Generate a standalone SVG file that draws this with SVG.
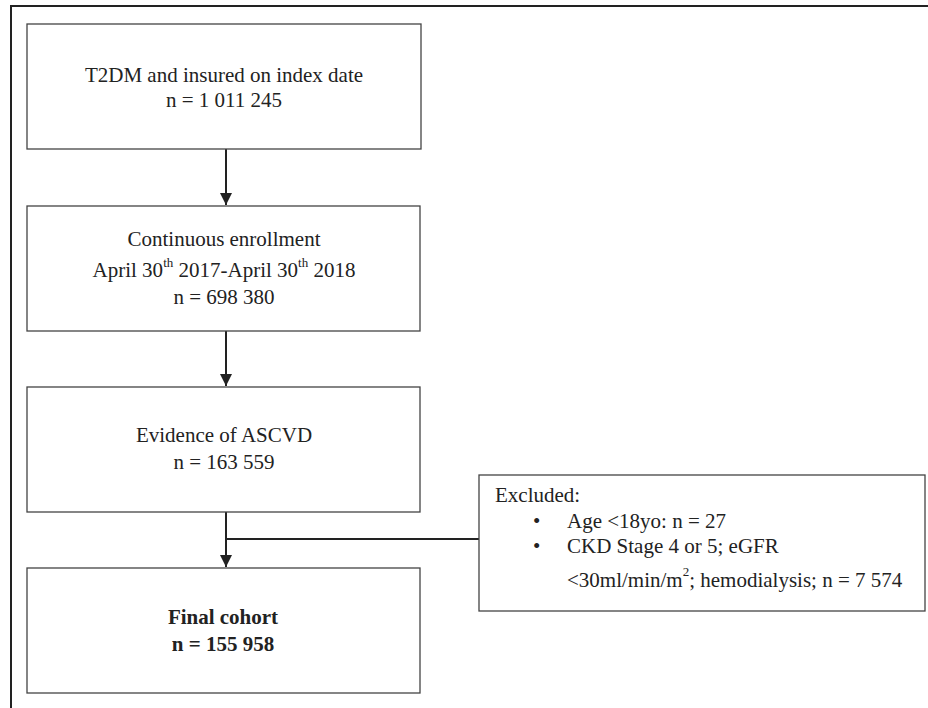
<svg xmlns="http://www.w3.org/2000/svg" width="928" height="708" viewBox="0 0 928 708">
<style>
.box{fill:#fff;stroke:#444;stroke-width:1.3}
.t{font-family:"Liberation Serif","Times New Roman",serif;font-size:21px;fill:#222}
.c{text-anchor:middle}
.b{font-weight:bold}
.con{stroke:#222;stroke-width:2;fill:none}
</style>
<defs>
<marker id="ah" viewBox="0 0 10 10" refX="10" refY="5" markerWidth="6" markerHeight="6" orient="auto" markerUnits="strokeWidth">
<path d="M0,0 L10,5 L0,10 Z" fill="#222"/>
</marker>
</defs>
<rect width="928" height="708" fill="#fff"/>
<path d="M11,708 V6 H928" fill="none" stroke="#222" stroke-width="2"/>
<g id="connectors">
<line class="con" x1="226" y1="149" x2="226" y2="205" marker-end="url(#ah)"/>
<line class="con" x1="226" y1="331" x2="226" y2="386" marker-end="url(#ah)"/>
<line class="con" x1="226" y1="512" x2="226" y2="567" marker-end="url(#ah)"/>
<line class="con" x1="226" y1="539" x2="479" y2="539"/>
</g>
<g id="n1">
<rect class="box" x="27" y="24" width="394" height="125"/>
<text class="t c" x="224" y="82">T2DM and insured on index date</text>
<text class="t c" x="224" y="107">n = 1 011 245</text>
</g>
<g id="n2">
<rect class="box" x="27" y="206" width="393" height="125"/>
<text class="t c" x="224" y="246">Continuous enrollment</text>
<text class="t c" x="224" y="277">April 30<tspan font-size="13" dy="-10">th</tspan><tspan dy="10"> 2017-April 30</tspan><tspan font-size="13" dy="-10">th</tspan><tspan dy="10"> 2018</tspan></text>
<text class="t c" x="224" y="304">n = 698 380</text>
</g>
<g id="n3">
<rect class="box" x="27" y="387" width="393" height="125"/>
<text class="t c" x="224" y="442">Evidence of ASCVD</text>
<text class="t c" x="224" y="469">n = 163 559</text>
</g>
<g id="n4">
<rect class="box" x="27" y="568" width="393" height="125"/>
<text class="t c b" x="223" y="624">Final cohort</text>
<text class="t c b" x="223" y="651">n = 155 958</text>
</g>
<g id="n5">
<rect class="box" x="479" y="475" width="446" height="136"/>
<text class="t" x="495" y="502">Excluded:</text>
<text class="t" x="533" y="528">•</text>
<text class="t" x="567" y="528">Age &lt;18yo: n = 27</text>
<text class="t" x="533" y="553">•</text>
<text class="t" x="567" y="553">CKD Stage 4 or 5; eGFR</text>
<text class="t" x="567" y="587">&lt;30ml/min/m<tspan font-size="13" dy="-11">2</tspan><tspan dy="11">; hemodialysis; n = 7 574</tspan></text>
</g>
</svg>
